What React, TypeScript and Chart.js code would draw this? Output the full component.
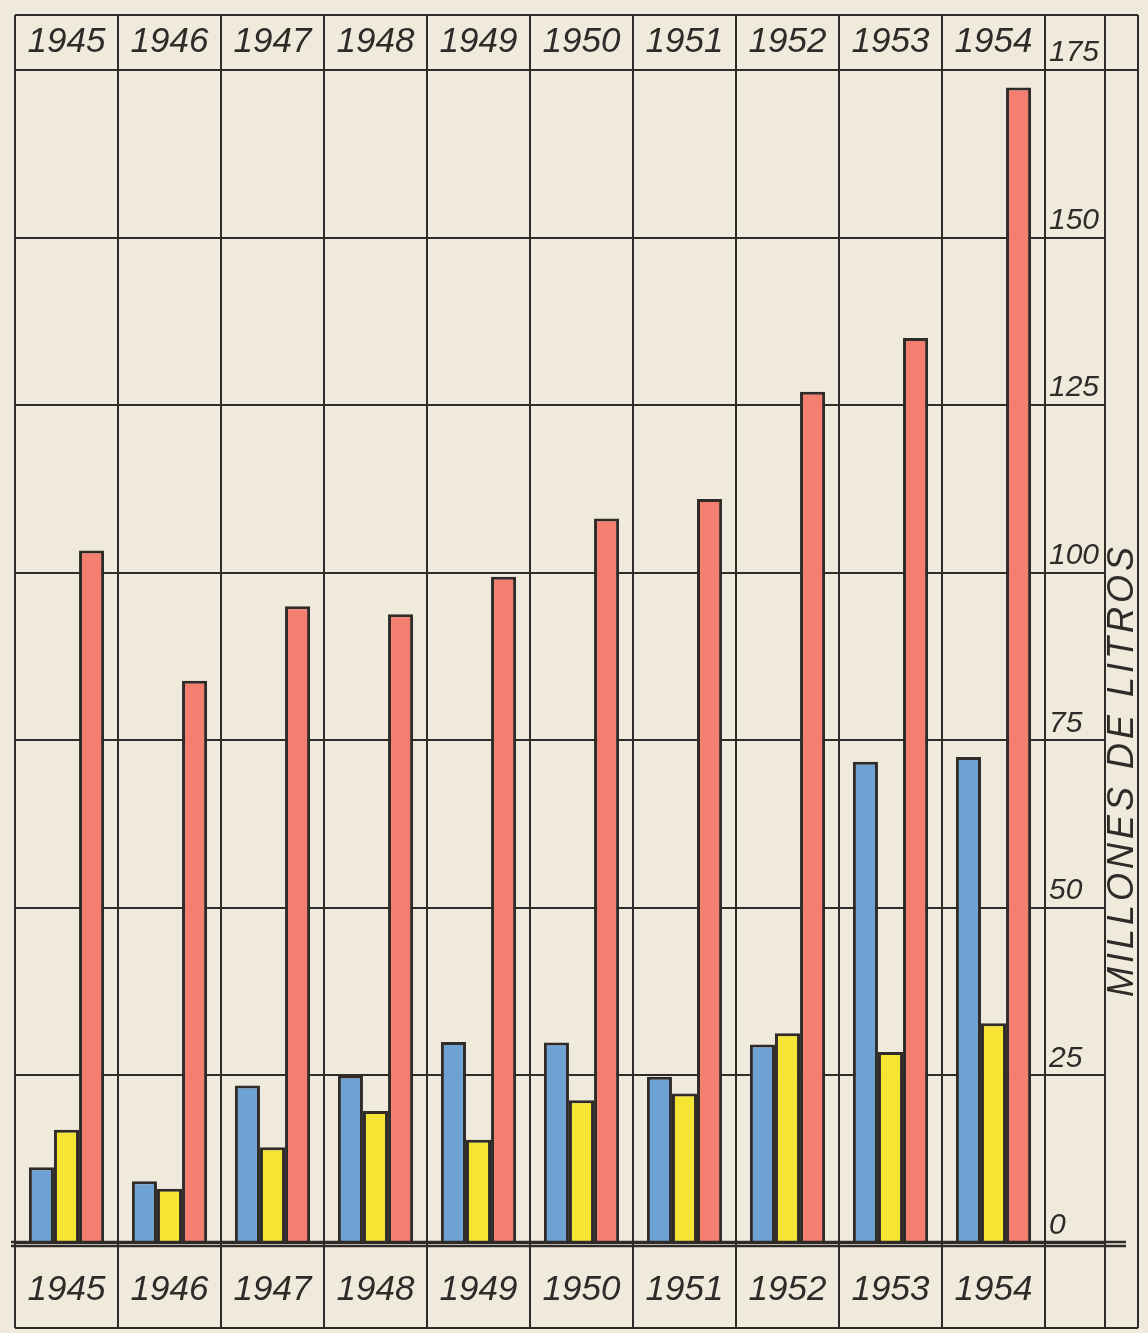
import React, { useEffect, useRef } from "react";
import { Chart, registerables } from "chart.js";

Chart.register(...registerables);

const years = ["1945", "1946", "1947", "1948", "1949", "1950", "1951", "1952", "1953", "1954"];
const blueSeries = [11.3, 9.2, 23.5, 25, 30, 29.9, 24.8, 29.6, 71.8, 72.5];
const yellowSeries = [16.9, 8.1, 14.3, 19.7, 15.4, 21.3, 22.3, 31.3, 28.5, 32.8];
const redSeries = [103.3, 83.9, 95, 93.8, 99.4, 108.1, 111, 127, 135, 172.4];
const yTicks = [0, 25, 50, 75, 100, 125, 150, 175];
const axisTitle = "MILLONES DE LITROS";

const W = 1148;
const H = 1333;
const INK = "#2f2b29";
const PAPER = "#f0eadc";
const FONT = "'Liberation Sans', Arial, sans-serif";

export default function App() {
  const ref = useRef<HTMLCanvasElement | null>(null);

  useEffect(() => {
    if (!ref.current) return;
    const FRAME_TOP = 15;
    const FRAME_RIGHT = 1138;
    const FRAME_BOTTOM = 1328;
    const LABEL_COL_RIGHT = 1105;

    const paperPlugin = {
      id: "paper",
      beforeDraw(chart: any) {
        const c = chart.ctx;
        c.save();
        c.fillStyle = PAPER;
        c.fillRect(0, 0, chart.width, chart.height);
        c.restore();
      },
    };

    const framePlugin = {
      id: "frame",
      afterDatasetsDraw(chart: any) {
        const c = chart.ctx;
        const a = chart.chartArea;
        c.save();
        c.strokeStyle = INK;
        c.lineWidth = 2;
        const line = (x1: number, y1: number, x2: number, y2: number) => {
          c.beginPath();
          c.moveTo(x1, y1);
          c.lineTo(x2, y2);
          c.stroke();
        };
        // outer frame
        line(a.left, FRAME_TOP, FRAME_RIGHT, FRAME_TOP);
        line(a.left, FRAME_TOP, a.left, FRAME_BOTTOM);
        line(FRAME_RIGHT, FRAME_TOP, FRAME_RIGHT, FRAME_BOTTOM);
        line(a.left, FRAME_BOTTOM, FRAME_RIGHT, FRAME_BOTTOM);
        // label column separators
        line(LABEL_COL_RIGHT, FRAME_TOP, LABEL_COL_RIGHT, FRAME_BOTTOM);
        line(a.right, FRAME_TOP, a.right, FRAME_BOTTOM);
        // top row separator extends to frame
        line(a.left, a.top, FRAME_RIGHT, a.top);
        // double baseline
        c.lineWidth = 2.5;
        line(a.left - 4, a.bottom - 1, FRAME_RIGHT - 12, a.bottom - 1);
        line(a.left - 4, a.bottom + 3, FRAME_RIGHT - 12, a.bottom + 3);
        // rotated axis title
        c.fillStyle = INK;
        c.font = `italic 36px ${FONT}`;
        (c as any).letterSpacing = "4px";
        c.textAlign = "center";
        c.textBaseline = "middle";
        c.translate(1123, 770);
        c.rotate(-Math.PI / 2);
        c.fillText(axisTitle, 0, 0);
        c.restore();
      },
    };

    const barStyle = {
      borderColor: INK,
      borderWidth: 3,
      borderSkipped: "start" as const,
      barPercentage: 1,
      categoryPercentage: 0.73,
    };

    const chart = new Chart(ref.current, {
      type: "bar",
      data: {
        labels: years,
        datasets: [
          { label: "Serie azul", data: blueSeries, backgroundColor: "#6ea2d4", ...barStyle },
          { label: "Serie amarilla", data: yellowSeries, backgroundColor: "#f6e434", ...barStyle },
          { label: "Serie roja", data: redSeries, backgroundColor: "#f47f70", ...barStyle },
        ],
      },
      options: {
        responsive: false,
        animation: false,
        devicePixelRatio: 1,
        layout: { padding: { top: 15, left: 15, right: 10, bottom: 5 } },
        plugins: {
          legend: { display: false },
          tooltip: { enabled: false },
          title: { display: false },
        },
        scales: {
          x: {
            type: "category",
            position: "bottom",
            offset: true,
            grid: {
              offset: true,
              color: INK,
              lineWidth: 2,
              drawTicks: true,
              tickLength: 85,
              tickColor: INK,
              tickWidth: 2,
            },
            border: { display: false },
            ticks: {
              color: INK,
              font: { family: FONT, size: 35, style: "italic" },
              padding: -59,
              maxRotation: 0,
            },
            afterFit: (s: any) => {
              s.height = 85;
            },
          },
          xTop: {
            type: "category",
            position: "top",
            offset: true,
            grid: {
              offset: true,
              color: INK,
              lineWidth: 2,
              drawOnChartArea: false,
              drawTicks: true,
              tickLength: 55,
              tickColor: INK,
              tickWidth: 2,
            },
            border: { display: false },
            ticks: {
              color: INK,
              font: { family: FONT, size: 35, style: "italic" },
              padding: -48,
              maxRotation: 0,
            },
            afterFit: (s: any) => {
              s.height = 55;
            },
          },
          y: {
            type: "linear",
            position: "right",
            min: 0,
            max: 175,
            afterBuildTicks: (s: any) => {
              s.ticks = yTicks.map((v) => ({ value: v }));
            },
            grid: {
              color: INK,
              lineWidth: 2,
              drawTicks: true,
              tickLength: 60,
              tickColor: INK,
              tickWidth: 2,
            },
            border: { display: true, color: INK, width: 2 },
            ticks: {
              color: INK,
              font: { family: FONT, size: 30, style: "italic" },
              padding: -56,
              labelOffset: -17,
            },
            afterFit: (s: any) => {
              s.width = 93;
            },
          },
        },
      },
      plugins: [paperPlugin, framePlugin],
    } as any);

    return () => chart.destroy();
  }, []);

  return (
    <div style={{ position: "absolute", left: 0, top: 0, width: W, height: H, background: PAPER }}>
      <canvas ref={ref} width={W} height={H} style={{ display: "block" }} />
    </div>
  );
}
